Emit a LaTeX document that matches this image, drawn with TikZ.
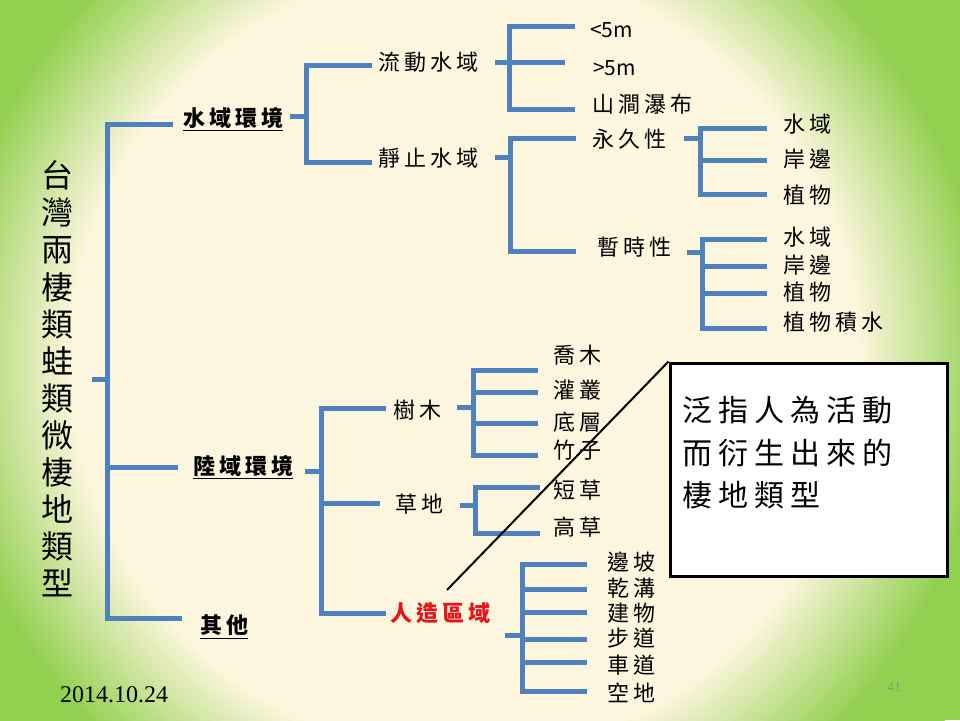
\documentclass[tikz,border=0pt]{standalone}
\usepackage{fontspec}
\setmainfont{Noto Sans CJK TC}
\newfontfamily\cjk[LetterSpace=18]{Noto Sans CJK TC}
\newfontfamily\cjkplain{Noto Sans CJK TC}
\newfontfamily\cjkbox[LetterSpace=20]{Noto Sans CJK TC}
\newfontfamily\serif{Liberation Serif}
\definecolor{creamc}{HTML}{FDF6DE}
\definecolor{greenc}{HTML}{92D050}
\definecolor{brblue}{HTML}{4F81BD}
\definecolor{redc}{HTML}{E8141B}
\definecolor{grayc}{HTML}{8A9A70}
\tikzset{
  br/.style={draw=brblue, line width=5pt, line join=miter},
  lbl/.style={anchor=west, inner sep=0pt, font=\cjk\fontsize{22}{26}\selectfont},
  hdr/.style={lbl, font=\cjk\bfseries\fontsize{22}{26}\selectfont},
  ul/.style={draw=black, line width=1.5pt},
}
\begin{document}
\begin{tikzpicture}[x=1pt,y=-1pt]
\useasboundingbox (0,0) rectangle (960,720);
\begin{scope}
\clip (0,0) rectangle (960,720);
\fill[greenc] (0,0) rectangle (960,720);
\foreach \r in {600,596,...,380} {
  \pgfmathsetmacro\p{min(100,max(0,(\r-395)/1.3))}
  \fill[greenc!\p!creamc] (465,360) circle (\r);
}
\end{scope}

% title
\node[inner sep=0pt, align=center, font=\cjkplain\fontsize{32}{37.1}\selectfont] (title) at (57,379)
 {台\\灣\\兩\\棲\\類\\蛙\\類\\微\\棲\\地\\類\\型};

% level 1
\node[hdr] (sw) at (183,118) {水域環境};
\node[hdr] (ld) at (193,466) {陸域環境};
\node[hdr] (qt) at (200,625) {其他};
\draw[ul] ([yshift=-1.5]sw.south west) -- ([yshift=-1.5]sw.south east);
\draw[ul] ([yshift=-1.5]ld.south west) -- ([yshift=-1.5]ld.south east);
\draw[ul] ([yshift=-3]qt.south west) -- ([yshift=-3]qt.south east);

% level 2
\node[lbl] (ldsy) at (378,62) {流動水域};
\node[lbl] (jzsy) at (378,158) {靜止水域};
\node[lbl] (sm) at (393,410) {樹木};
\node[lbl] (cd) at (395,504) {草地};
\node[hdr, text=redc] (rz) at (390,613) {人造區域};

% level 3
\node[lbl, font=\cjkplain\fontsize{21}{26}\selectfont] (lt5) at (590,30) {<5m};
\node[lbl, font=\cjkplain\fontsize{21}{26}\selectfont] (gt5) at (593,68) {>5m};
\node[lbl] (sj) at (592,104) {山澗瀑布};
\node[lbl] (yj) at (592,139) {永久性};
\node[lbl] (zs) at (597,247) {暫時性};

\node[lbl] (a1) at (783,124) {水域};
\node[lbl] (a2) at (783,159) {岸邊};
\node[lbl] (a3) at (783,195) {植物};
\node[lbl] (b1) at (783,237) {水域};
\node[lbl] (b2) at (783,265) {岸邊};
\node[lbl] (b3) at (783,292) {植物};
\node[lbl] (b4) at (783,322) {植物積水};

\node[lbl] (c1) at (553,355) {喬木};
\node[lbl] (c2) at (553,390) {灌叢};
\node[lbl] (c3) at (553,422) {底層};
\node[lbl] (c4) at (553,450) {竹子};
\node[lbl] (d1) at (553,490) {短草};
\node[lbl] (d2) at (553,527) {高草};

\node[lbl] (e1) at (607,562) {邊坡};
\node[lbl] (e2) at (607,588) {乾溝};
\node[lbl] (e3) at (607,613) {建物};
\node[lbl] (e4) at (607,638) {步道};
\node[lbl] (e5) at (607,665) {車道};
\node[lbl] (e6) at (607,693) {空地};

% brackets
\draw[br] (92,379) -- (107,379);
\draw[br] (173,124) -- (107,124) -- (107,618) -- (182,618);
\draw[br] (107,467) -- (178,467);

\draw[br] (290,116) -- (306,116);
\draw[br] (372,65) -- (306,65) -- (306,162) -- (372,162);

\draw[br] (575,26) -- (509,26) -- (509,109) -- (575,109);
\draw[br] (495,62) -- (565,62);

\draw[br] (576,138) -- (510,138) -- (510,251) -- (576,251);
\draw[br] (495,157) -- (510,157);

\draw[br] (684,138) -- (700,138);
\draw[br] (767,128) -- (700,128) -- (700,194) -- (767,194);
\draw[br] (700,160) -- (767,160);

\draw[br] (687,252) -- (702,252);
\draw[br] (767,239) -- (702,239) -- (702,328) -- (767,328);
\draw[br] (702,266) -- (767,266);
\draw[br] (702,293) -- (767,293);

\draw[br] (305,471) -- (321,471);
\draw[br] (386,408) -- (321,408) -- (321,613) -- (386,613);
\draw[br] (321,503) -- (380,503);

\draw[br] (457,407) -- (473,407);
\draw[br] (538,370) -- (473,370) -- (473,455) -- (538,455);
\draw[br] (473,392) -- (538,392);
\draw[br] (473,423) -- (538,423);

\draw[br] (460,505) -- (475,505);
\draw[br] (540,487) -- (475,487) -- (475,533) -- (540,533);

\draw[br] (505,635) -- (522,635);
\draw[br] (587,564) -- (522,564) -- (522,691) -- (587,691);
\draw[br] (522,589) -- (587,589);
\draw[br] (522,612) -- (587,612);
\draw[br] (522,639) -- (587,639);
\draw[br] (522,662) -- (587,662);

% callout
\coordinate (cs) at (447,590);
\node[draw=black, fill=white, line width=3pt, minimum width=277pt, minimum height=213pt, inner sep=0pt] (box) at (808.5,469.5) {};
\draw[black, line width=2pt] (cs) -- (box.north west);
\node[anchor=west, inner sep=0pt, align=left, font=\cjkbox\fontsize{30}{42.5}\selectfont] (boxtxt) at (682,453)
 {泛指人為活動\\而衍生出來的\\棲地類型};

% footer
\node[anchor=west, inner sep=0pt, font=\serif\fontsize{24}{28}\selectfont] (date) at (60,695) {2014.10.24};
\node[anchor=west, inner sep=0pt, text=grayc, font=\serif\fontsize{14}{16}\selectfont] (pg) at (887,687) {41};
\end{tikzpicture}
\end{document}
